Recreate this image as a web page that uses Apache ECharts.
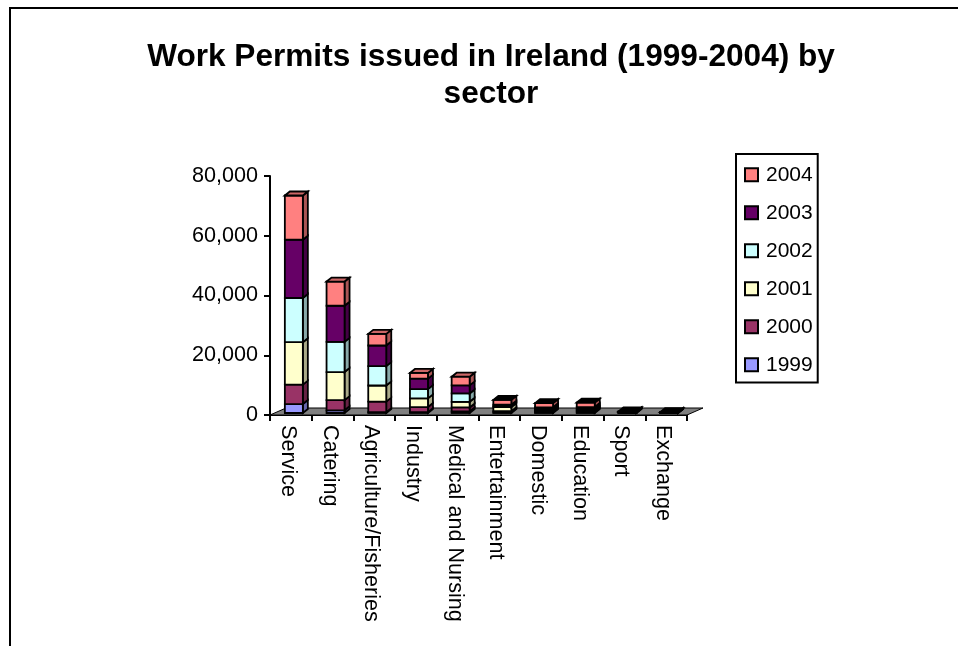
<!DOCTYPE html>
<html>
<head>
<meta charset="utf-8">
<style>
  html, body { margin: 0; padding: 0; background: #fff; }
  #chart { width: 958px; height: 646px; }
</style>
<script src="https://cdn.jsdelivr.net/npm/echarts@6/dist/echarts.min.js"></script>
</head>
<body>
<div id="chart"></div>
<script>
const categories = ["Service", "Catering", "Agriculture/Fisheries", "Industry", "Medical and Nursing", "Entertainment", "Domestic", "Education", "Sport", "Exchange"];
const years = ["1999", "2000", "2001", "2002", "2003", "2004"];
const colors = ["#9999FF", "#993366", "#FFFFCC", "#CCFFFF", "#660066", "#FF8080"];
const sideColors = ["#6666AA", "#662244", "#AAAA88", "#88AAAA", "#440044", "#AA5555"];
const topColors = ["#7777CC", "#772850", "#CCCCA0", "#A0CCCC", "#500050", "#CC6666"];

const v1999 = [3000, 900, 300, 300, 500, 200, 200, 200, 50, 50];
const v2000 = [6500, 3400, 3500, 1700, 1350, 400, 400, 400, 100, 50];
const v2001 = [14200, 9400, 5400, 2900, 1900, 1400, 400, 400, 100, 50];
const v2002 = [14800, 10100, 6500, 3100, 2800, 300, 400, 400, 100, 50];
const v2003 = [19500, 12100, 6900, 3500, 2700, 500, 500, 600, 100, 50];
const v2004 = [14800, 8100, 3900, 1900, 2900, 1600, 1400, 1500, 100, 50];
const seriesValues = [v1999, v2000, v2001, v2002, v2003, v2004];

const chart = echarts.init(document.getElementById("chart"));

const FONT = "Liberation Sans";
const depthX = 5, depthY = 4;
const shiftX = 3, shiftY = 2;
const barWidth = 18;

function stackSeries(values, index) {
  const data = values.map((v, i) => {
    let base = 0;
    for (let s = 0; s < index; s++) base += seriesValues[s][i];
    return [i, base, base + v];
  });
  return {
    name: years[index],
    type: "custom",
    itemStyle: { color: colors[index], borderColor: "#000", borderWidth: 2 },
    data: data,
    z: 3,
    renderItem: (params, api) => {
      const low = api.coord([api.value(0), api.value(1)]);
      const high = api.coord([api.value(0), api.value(2)]);
      const l = low[0] - barWidth / 2 + shiftX;
      const r = l + barWidth;
      const b = low[1] - shiftY;
      const t = high[1] - shiftY;
      const line = { stroke: "#000", lineWidth: 1.8 };
      const children = [
        { type: "polygon", shape: { points: [[r, b], [r + depthX, b - depthY], [r + depthX, t - depthY], [r, t]] }, style: { fill: sideColors[index], ...line } },
        { type: "rect", shape: { x: l, y: t, width: barWidth, height: b - t }, style: { fill: colors[index], ...line } },
      ];
      // only the top segment shows its lid, tiny bars blur to black in the original
      if (index === seriesValues.length - 1) {
        const lidFill = b - t < 5 ? "#000" : topColors[index];
        children.push({ type: "polygon", shape: { points: [[l, t], [l + depthX, t - depthY], [r + depthX, t - depthY], [r, t]] }, style: { fill: lidFill, ...line } });
      }
      return { type: "group", children: children };
    },
  };
}

const floorSeries = {
  type: "custom",
  silent: true,
  z: 1,
  data: [[0, 0]],
  renderItem: (params, api) => {
    const o = api.coord([0, 0]);
    const halfBand = api.size([1, 0])[0] / 2;
    const l = o[0] - halfBand;
    const r = l + halfBand * 2 * categories.length;
    const y = o[1];
    return {
      type: "polygon",
      shape: { points: [[l, y], [r, y], [r + 16, y - 7], [l + 16, y - 7]] },
      style: { fill: "#808080", stroke: "#000", lineWidth: 1 },
    };
  },
};

const option = {
  animation: false,
  backgroundColor: "#fff",
  title: {
    text: "Work Permits issued in Ireland (1999-2004) by\nsector",
    left: 486,
    top: 34,
    textAlign: "center",
    textStyle: { fontFamily: FONT, fontSize: 31.6, fontWeight: "bold", color: "#000", lineHeight: 37 },
  },
  graphic: [
    {
      type: "polyline",
      silent: true,
      z: -1,
      shape: { points: [[10, 646], [10, 8], [958, 8]] },
      style: { fill: "none", stroke: "#000", lineWidth: 2 },
    },
  ],
  legend: {
    orient: "vertical",
    left: 736,
    top: 154,
    padding: [9, 5, 6, 8],
    itemGap: 14.5,
    itemWidth: 13,
    itemHeight: 13,
    borderColor: "#000",
    borderWidth: 2,
    icon: "rect",
    data: [...years].reverse(),
    textStyle: { fontFamily: FONT, fontSize: 21, lineHeight: 23.5, color: "#000", padding: [0, 0, 0, 3] },
  },
  grid: { left: 270, top: 176, width: 417, height: 239 },
  xAxis: {
    type: "category",
    data: categories,
    boundaryGap: true,
    axisLine: { show: true, lineStyle: { color: "#000", width: 2 } },
    axisTick: { show: true, alignWithLabel: false, length: 6, lineStyle: { color: "#000", width: 2 } },
    axisLabel: { rotate: -90, interval: 0, margin: 10, verticalAlign: "top", lineHeight: 6, fontFamily: FONT, fontSize: 21.6, color: "#000" },
    splitLine: { show: false },
  },
  yAxis: {
    type: "value",
    min: 0,
    max: 80000,
    interval: 20000,
    axisLine: { show: true, lineStyle: { color: "#000", width: 2 } },
    axisTick: { show: true, inside: false, length: 6, lineStyle: { color: "#000", width: 2 } },
    axisLabel: {
      margin: 12,
      fontFamily: FONT,
      fontSize: 21.6,
      color: "#000",
      formatter: (v) => v.toLocaleString("en-US"),
    },
    splitLine: { show: false },
  },
  series: [floorSeries, ...seriesValues.map(stackSeries)],
};

chart.setOption(option);
</script>
</body>
</html>
